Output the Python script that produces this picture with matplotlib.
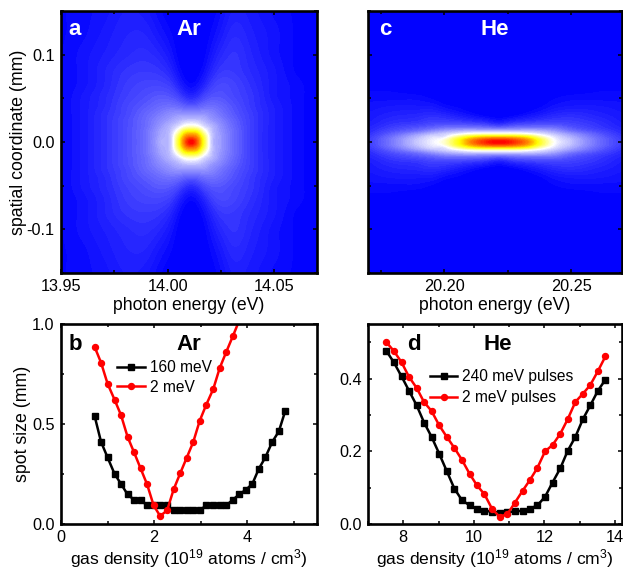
import numpy as np
import matplotlib
matplotlib.use("Agg")
import matplotlib.pyplot as plt
from matplotlib.colors import LinearSegmentedColormap
from matplotlib.ticker import MultipleLocator

plt.rcParams["font.family"] = ["Liberation Sans", "DejaVu Sans"]
plt.rcParams["mathtext.default"] = "regular"
plt.rcParams["font.size"] = 11.7
plt.rcParams["axes.unicode_minus"] = False

# panel a, Ar: intensity, upper half (symmetric in y)
ar_energy = [13.95, 13.96, 13.97, 13.98, 13.99, 13.997, 14.002, 14.005, 14.008, 14.011,
             14.014, 14.017, 14.02, 14.025, 14.03, 14.04, 14.05, 14.06, 14.07]
ar_pos = [0, .006, .012, .018, .024, .032, .04, .05, .065, .08, .10, .125, .15]
ar_map = [
    [1, 4, 8, 13, 20, 31, 38, 66, 88, 100, 88, 66, 38, 27, 20, 10, 5, 2, 0],
    [1, 4, 8, 13, 20, 30, 38, 62, 82, 88, 82, 62, 38, 27, 20, 10, 5, 2, 0],
    [1, 4, 8, 13, 20, 29, 36, 50, 68, 72, 68, 50, 36, 26, 20, 10, 5, 2, 0],
    [1, 4, 8, 13, 19, 27, 33, 38, 46, 49, 46, 38, 33, 25, 19, 10, 5, 2, 0],
    [1, 4, 8, 13, 19, 25, 29, 32, 35, 36, 35, 32, 28, 23, 18, 10, 5, 2, 0],
    [1, 4, 8, 12, 18, 22, 25, 26, 26, 26, 26, 26, 24, 20, 16, 10, 5, 2, 0],
    [1, 4, 7, 12, 16, 19, 20, 19, 17, 16, 17, 19, 20, 18, 15, 9, 5, 2, 0],
    [1, 4, 7, 11, 14, 16, 15, 13, 9, 7, 9, 13, 15, 15, 13, 9, 4, 2, 0],
    [1, 3, 6, 10, 12, 12, 10, 6, 2, 1, 2, 6, 10, 13, 12, 8, 4, 2, 0],
    [1, 3, 6, 9, 10, 9, 6, 2, 0, 0, 0, 2, 6, 10, 10, 7, 4, 1, 0],
    [1, 3, 5, 7, 8, 6, 3, 0, 0, 0, 0, 0, 3, 7, 9, 6, 3, 1, 0],
    [1, 2, 4, 6, 6, 3, 1, 0, 0, 0, 0, 0, 1, 4, 7, 5, 3, 1, 0],
    [1, 2, 3, 5, 4, 1, 0, 0, 0, 0, 0, 0, 0, 2, 5, 4, 2, 1, 0],
]

# panel c, He
he_energy = [20.17, 20.18, 20.19, 20.195, 20.2, 20.205, 20.21, 20.215, 20.2215, 20.228,
             20.233, 20.238, 20.243, 20.25, 20.26, 20.27]
he_pos = [0, .003, .006, .009, .012, .016, .02, .03, .04, .05, .06, .08, .15]
he_map = [
    [10, 22, 36, 42, 50, 68, 84, 94, 100, 94, 84, 66, 46, 34, 20, 10],
    [10, 22, 35, 41, 47, 66, 80, 88, 92, 88, 80, 63, 44, 33, 20, 10],
    [9, 20, 32, 38, 40, 55, 68, 74, 75, 74, 68, 52, 40, 30, 18, 9],
    [8, 17, 27, 32, 36, 41, 47, 50, 50, 50, 46, 40, 34, 26, 16, 8],
    [7, 14, 20, 25, 29, 32, 34, 34, 34, 34, 34, 32, 28, 20, 13, 7],
    [6, 11, 15, 17, 20, 21, 21, 20, 18, 20, 21, 21, 20, 15, 10, 6],
    [5, 9, 11, 13, 14, 14, 13, 12, 8, 12, 13, 14, 14, 12, 9, 5],
    [4, 6, 7, 8, 7, 5, 3, 1, 0, 1, 3, 5, 7, 8, 6, 4],
    [3, 4, 4, 4, 2, 1, 0, 0, 0, 0, 0, 1, 3, 4, 4, 3],
    [2, 2, 2, 1, 0, 0, 0, 0, 0, 0, 0, 0, 1, 2, 2, 2],
    [1, 1, 0, 0, 0, 0, 0, 0, 0, 0, 0, 0, 0, 0, 1, 1],
    [0, 0, 0, 0, 0, 0, 0, 0, 0, 0, 0, 0, 0, 0, 0, 0],
    [0, 0, 0, 0, 0, 0, 0, 0, 0, 0, 0, 0, 0, 0, 0, 0],
]

# panel b
ar_density = [0.72, 0.86, 1.00, 1.15, 1.29, 1.43, 1.57, 1.71, 1.85, 1.99, 2.13, 2.28, 2.42, 2.56, 2.70,
              2.84, 2.98, 3.12, 3.27, 3.41, 3.55, 3.69, 3.83, 3.97, 4.11, 4.25, 4.39, 4.54, 4.68, 4.82]
ar_160 = [.542, .411, .333, .251, .200, .148, .121, .121, .093, .093, .093, .093, .068, .068, .068,
          .068, .068, .093, .093, .093, .093, .121, .148, .171, .200, .276, .333, .411, .463, .567]
ar_2 = [.887, .807, .702, .622, .544, .436, .358, .278, .198, .093, .040, .068, .173, .253, .331,
        .409, .516, .596, .674, .780, .860, .938, 1.018]

# panel d
he_density = [7.52, 7.73, 7.95, 8.16, 8.38, 8.59, 8.80, 9.02, 9.23, 9.45, 9.66, 9.88, 10.09, 10.30, 10.52,
              10.73, 10.95, 11.16, 11.38, 11.59, 11.80, 12.02, 12.23, 12.45, 12.66, 12.88, 13.09, 13.30, 13.52, 13.73]
he_240 = [.476, .445, .406, .367, .326, .279, .240, .193, .146, .097, .066, .051, .041, .036, .034,
          .031, .032, .035, .036, .042, .051, .075, .114, .153, .201, .240, .288, .326, .367, .397]
he_2 = [.500, .476, .445, .405, .374, .335, .311, .271, .240, .209, .177, .138, .106, .082, .041,
        .020, .027, .058, .091, .121, .154, .200, .217, .248, .288, .336, .358, .382, .421, .461]

cmap = LinearSegmentedColormap.from_list(
    "bwyr", [(0, "#0000ff"), (.45, "#ffffff"), (.72, "#ffff00"), (1, "#ff0000")])

W, H = 623, 568
fig = plt.figure(figsize=(W / 100, H / 100), dpi=100)


def box(x0, y0, x1, y1):
    # pixel box, y from top
    ax = fig.add_axes([x0 / W, 1 - y1 / H, (x1 - x0) / W, (y1 - y0) / H])
    for s in ax.spines.values():
        s.set_linewidth(1.9)
    ax.tick_params(which="both", direction="in", top=True, right=True, width=1.1, labelsize=11.7, pad=4.5)
    ax.tick_params(which="major", length=3.2)
    ax.tick_params(which="minor", length=2.4)
    return ax


def hermite(x, z, xf):
    # cubic hermite along the first axis, so the table does not look blocky
    x = np.asarray(x)
    dz = np.gradient(z, x, axis=0)
    i = np.clip(np.searchsorted(x, xf) - 1, 0, len(x) - 2)
    h = x[i + 1] - x[i]
    t = (xf - x[i]) / h
    t2 = t[:, None]
    h2 = h[:, None]
    return ((2 * t2**3 - 3 * t2**2 + 1) * z[i] + (t2**3 - 2 * t2**2 + t2) * h2 * dz[i]
            + (-2 * t2**3 + 3 * t2**2) * z[i + 1] + (t2**3 - t2**2) * h2 * dz[i + 1])


def blur(z, n, axis):
    # box blur, padded with the edge values
    z = np.moveaxis(z, axis, 0)
    p = np.pad(z, ((n, n), (0, 0)), mode="edge")
    c = np.cumsum(np.vstack([np.zeros((1, p.shape[1])), p]), axis=0)
    out = (c[2 * n + 1:] - c[:-2 * n - 1]) / (2 * n + 1)
    return np.moveaxis(out, 0, axis)


def heat(ax, x, pos, grid, nx, ny):
    pos = np.array(pos)
    grid = np.array(grid, dtype=float)
    y = np.concatenate([-pos[:0:-1], pos])
    z = np.vstack([grid[:0:-1], grid])
    yf = np.linspace(-0.15, 0.15, 401)
    xf = np.linspace(x[0], x[-1], 401)
    zf = hermite(y, z, yf)
    zf = hermite(x, zf.T, xf).T
    zf = np.clip(zf, 0, 100)
    # soften only the faint outer part, the core stays sharp
    soft = zf
    for _ in range(2):
        soft = blur(blur(soft, nx, 1), ny, 0)
    w = np.clip(zf / 32, 0, 1)
    zf = w * zf + (1 - w) * soft
    ax.contourf(xf, yf, zf, levels=np.linspace(0, 100, 81), cmap=cmap, vmin=0, vmax=100)
    ax.set_ylim(-0.15, 0.15)
    ax.yaxis.set_major_locator(MultipleLocator(0.1))
    ax.yaxis.set_minor_locator(MultipleLocator(0.05))
    ax.xaxis.set_major_locator(MultipleLocator(0.05))
    ax.xaxis.set_minor_locator(MultipleLocator(0.025))
    ax.xaxis.set_major_formatter("{x:.2f}")
    ax.set_xlabel("photon energy (eV)", fontsize=12.7, labelpad=2)


ax_a = box(61, 11, 317, 273)
heat(ax_a, ar_energy, ar_pos, ar_map, 7, 7)
ax_a.set_xlim(13.95, 14.07)
ax_a.set_ylabel("spatial coordinate (mm)", fontsize=12.8, labelpad=0)
ax_a.text(0.03, 0.93, "a", transform=ax_a.transAxes, color="white", fontsize=16, fontweight="bold", va="center")
ax_a.text(0.50, 0.93, "Ar", transform=ax_a.transAxes, color="white", fontsize=16, fontweight="bold", va="center", ha="center")

ax_c = box(368, 11, 622, 273)
heat(ax_c, he_energy, he_pos, he_map, 7, 2)
ax_c.set_xlim(20.17, 20.27)
ax_c.set_xticks([20.20, 20.25])
ax_c.tick_params(axis="y", labelleft=False)
ax_c.text(0.045, 0.93, "c", transform=ax_c.transAxes, color="white", fontsize=16, fontweight="bold", va="center")
ax_c.text(0.50, 0.93, "He", transform=ax_c.transAxes, color="white", fontsize=16, fontweight="bold", va="center", ha="center")

ax_b = box(61, 324, 317, 524)
ax_b.plot(ar_density, ar_160, "-s", color="black", lw=1.8, ms=4, label="160 meV")
ax_b.plot(ar_density[:len(ar_2)], ar_2, "-o", color="#ff0000", lw=1.8, ms=4.3, label="2 meV")
ax_b.set_xlim(0, 5.5)
ax_b.set_ylim(0, 1)
ax_b.xaxis.set_major_locator(MultipleLocator(2))
ax_b.xaxis.set_minor_locator(MultipleLocator(1))
ax_b.yaxis.set_major_locator(MultipleLocator(0.5))
ax_b.yaxis.set_minor_locator(MultipleLocator(0.25))
ax_b.set_xlabel("gas density (10$^{19}$ atoms / cm$^{3}$)", fontsize=12.6, labelpad=1)
ax_b.set_ylabel("spot size (mm)", fontsize=12.8, labelpad=1)
ax_b.legend(loc="upper left", bbox_to_anchor=(0.22, 0.82), frameon=False, fontsize=11.2, handlelength=1.75,
            handletextpad=0.35, labelspacing=0.3, borderpad=0, borderaxespad=0)
ax_b.text(0.03, 0.895, "b", transform=ax_b.transAxes, fontsize=16, fontweight="bold", va="center")
ax_b.text(0.50, 0.895, "Ar", transform=ax_b.transAxes, fontsize=16, fontweight="bold", va="center", ha="center")

ax_d = box(368, 324, 622, 524)
ax_d.plot(he_density, he_240, "-s", color="black", lw=1.8, ms=4, label="240 meV pulses")
ax_d.plot(he_density, he_2, "-o", color="#ff0000", lw=1.8, ms=4.3, label="2 meV pulses")
ax_d.set_xlim(7, 14.2)
ax_d.set_ylim(0, 0.55)
ax_d.xaxis.set_major_locator(MultipleLocator(2))
ax_d.xaxis.set_minor_locator(MultipleLocator(1))
ax_d.yaxis.set_major_locator(MultipleLocator(0.2))
ax_d.yaxis.set_minor_locator(MultipleLocator(0.1))
ax_d.set_xlabel("gas density (10$^{19}$ atoms / cm$^{3}$)", fontsize=12.6, labelpad=1)
ax_d.legend(loc="upper left", bbox_to_anchor=(0.245, 0.775), frameon=False, fontsize=11.2, handlelength=1.75,
            handletextpad=0.3, labelspacing=0.4, borderpad=0, borderaxespad=0)
ax_d.text(0.155, 0.895, "d", transform=ax_d.transAxes, fontsize=16, fontweight="bold", va="center")
ax_d.text(0.51, 0.895, "He", transform=ax_d.transAxes, fontsize=16, fontweight="bold", va="center", ha="center")

fig.savefig("out.png", dpi=100)
